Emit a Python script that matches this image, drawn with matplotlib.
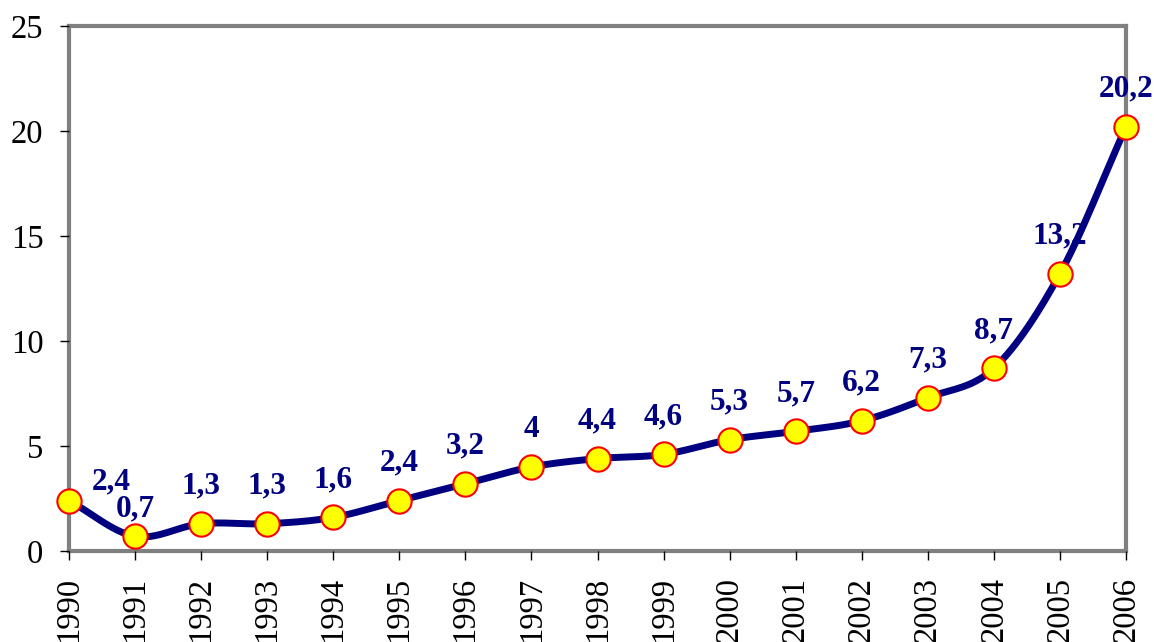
import matplotlib
matplotlib.use("Agg")
import matplotlib.pyplot as plt
import numpy as np

years = [1990, 1991, 1992, 1993, 1994, 1995, 1996, 1997, 1998, 1999,
         2000, 2001, 2002, 2003, 2004, 2005, 2006]
values = [2.4, 0.7, 1.3, 1.3, 1.6, 2.4, 3.2, 4, 4.4, 4.6,
          5.3, 5.7, 6.2, 7.3, 8.7, 13.2, 20.2]
labels = ["2,4", "0,7", "1,3", "1,3", "1,6", "2,4", "3,2", "4", "4,4", "4,6",
          "5,3", "5,7", "6,2", "7,3", "8,7", "13,2", "20,2"]
yticks = [0, 5, 10, 15, 20, 25]

plt.rcParams['font.family'] = ['Liberation Serif', 'DejaVu Serif']

fig = plt.figure(figsize=(11.54, 6.42), dpi=100)
ax = fig.add_axes([69/1154, 1-551/642, (1126-69)/1154, (551-26)/642])

x = np.arange(len(years), dtype=float)
y = np.array(values, dtype=float)

# Catmull-Rom smoothing of the connecting line (display only)
def catmull(xp, yp, n=30):
    px = np.concatenate([[2*xp[0]-xp[1]], xp, [2*xp[-1]-xp[-2]]])
    py = np.concatenate([[2*yp[0]-yp[1]], yp, [2*yp[-1]-yp[-2]]])
    xs, ys = [], []
    t = np.linspace(0, 1, n, endpoint=False)
    for i in range(1, len(px)-2):
        p0, p1, p2, p3 = [np.array([px[j], py[j]]) for j in (i-1, i, i+1, i+2)]
        tau = 0.5
        m1 = tau*(p2-p0)
        m2 = tau*(p3-p1)
        h00 = 2*t**3-3*t**2+1
        h10 = t**3-2*t**2+t
        h01 = -2*t**3+3*t**2
        h11 = t**3-t**2
        pts = np.outer(h00, p1)+np.outer(h10, m1)+np.outer(h01, p2)+np.outer(h11, m2)
        xs.extend(pts[:, 0]); ys.extend(pts[:, 1])
    xs.append(xp[-1]); ys.append(yp[-1])
    return np.array(xs), np.array(ys)

sx, sy = catmull(x, y)
ax.plot(sx, sy, color='#000080', lw=5, solid_capstyle='round', zorder=2, clip_on=False)
ax.plot(x, y, 'o', ms=17.5, mfc='#FFFF00', mec='#FF0000', mew=1.5, zorder=3, clip_on=False)

# label offsets in pixels (dx, dy from marker centre to text baseline)
for i, (xi, yi, lab) in enumerate(zip(x, y, labels)):
    dx, dy = 0, 30
    if i == 0:
        dx, dy = 42, 11
    elif i == 1:
        dy = 20
    ax.annotate(lab, (xi, yi), xytext=(dx*0.72, dy*0.72), textcoords='offset points',
                ha='center', va='baseline', fontsize=22.5, fontweight='bold',
                color='#000080', zorder=4, annotation_clip=False)

ax.set_xlim(x[0], x[-1])
ax.set_ylim(0, 25)
ax.set_yticks(yticks)
ax.set_yticklabels([str(v) for v in yticks], fontsize=23.5)
ax.set_xticks(x)
ax.set_xticklabels([str(v) for v in years], rotation=90, fontsize=23.5)
ax.tick_params(axis='both', direction='out', length=6.5, width=1, color='black')
ax.tick_params(axis='y', pad=12)
ax.tick_params(axis='x', pad=12)

for s in ax.spines.values():
    s.set_color('#808080')
    s.set_linewidth(3)
    s.set_zorder(1)

fig.savefig('out.png', dpi=100)
